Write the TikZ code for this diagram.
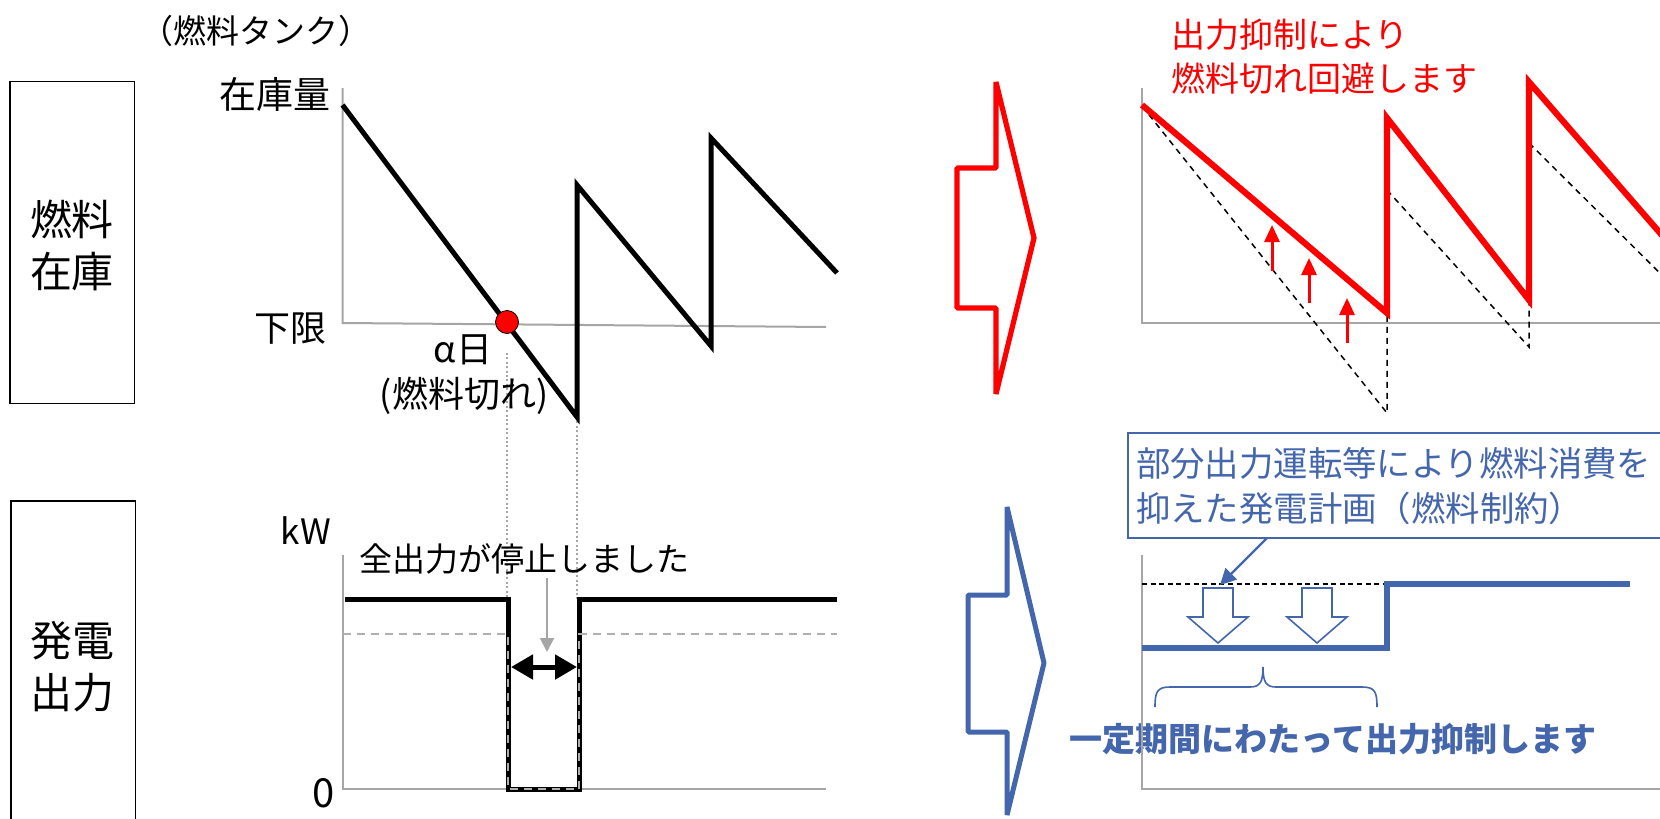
\documentclass[tikz,border=0pt]{standalone}
\usepackage{fontspec}
\setmainfont{Noto Sans CJK JP}
\usetikzlibrary{arrows.meta}
\definecolor{myblue}{RGB}{68,102,172}
\definecolor{axgray}{RGB}{166,166,166}
\definecolor{dgray}{RGB}{175,175,175}
\begin{document}
\begin{tikzpicture}[x=0.5pt,y=-0.5pt,
  every node/.style={inner sep=0pt, outer sep=0pt},
  ax/.style={draw=axgray, line width=1pt},
  blk/.style={draw=black, line width=2.5pt, line join=miter},
  thindash/.style={draw=black, line width=0.75pt, dash pattern=on 3pt off 2.5pt},
  dotv/.style={draw=axgray, line width=0.8pt, dash pattern=on 1pt off 1.2pt},
  sidebox/.style={draw=black, line width=0.8pt},
  fa/.style={font=\fontsize{21}{26}\selectfont},
  fb/.style={font=\fontsize{18.5}{22}\selectfont},
  fc/.style={font=\fontsize{18}{22}\selectfont},
  fd/.style={font=\fontsize{16.5}{20}\selectfont},
  fe/.style={font=\fontsize{17}{22}\selectfont},
  fg/.style={font=\fontsize{17.2}{22.5}\selectfont},
  blockarrow/.style={line width=2.6pt, line join=bevel, fill=white}
]
\clip (0,0) rectangle (1660,819);
\fill[white] (0,0) rectangle (1660,819);

% ---------------- left side boxes ----------------
\node[fd] (tank) at (256,31) {（燃料タンク）};
\node[sidebox, minimum width=62.3pt, minimum height=161pt] (box1) at (72.2,242.5) {};
\node[fa, align=center] (box1t) at (72,245) {燃料\\在庫};
\node[sidebox, anchor=north west, minimum width=62.3pt, minimum height=180pt] (box2) at (10.8,501) {};
\node[fa, align=center] (box2t) at (73,667) {発電\\出力};

% ---------------- top-left chart ----------------
\node[fb, anchor=east] (zaiko) at (330,94) {在庫量};
\node[fc, anchor=east] (kagen) at (326,329) {下限};
\coordinate (tlO) at (342.5,323);
\coordinate (tlY) at (342.5,88);
\coordinate (tlX) at (826,327);
\draw[ax] (tlY) -- (tlO) -- (tlX);
\draw[dotv] (507,353) -- (507,599);
\draw[dotv] (577,417) -- (577,599);
\draw[blk] (342.5,105) -- (577,417) -- (577,185) -- (711,346) -- (711,138) -- (837,273);
\node[circle, fill=red, draw=black, line width=0.4pt, minimum size=11.5pt] (dot) at (507,322) {};
\node[fc] (alpha) at (463,350) {α日};
\node[fc] (gire) at (464,396) {(燃料切れ)};

% ---------------- bottom-left chart ----------------
\node[font=\fontsize{17.5}{20}\selectfont] (kw) at (306,531) {kW};
\node[font=\fontsize{20}{24}\selectfont] (zero) at (324,793) {0};
\draw[ax] (342.5,555) -- (342.5,789) -- (826,789);
\draw[blk] (345,599) -- (508,599) -- (508,789) -- (579,789) -- (579,599) -- (837,599);
\draw[draw=dgray, line width=1.1pt, dash pattern=on 4pt off 3pt]
  (342.5,634) -- (508,634) -- (508,789) -- (579,789) -- (579,634) -- (837,634);
\node[fd] (stop) at (524,559) {全出力が停止しました};
\coordinate (gfrom) at (547,578);
\coordinate (gto) at (547,652);
\draw[axgray, line width=1pt, -{Triangle[length=7pt,width=7pt]}] (gfrom) -- (gto);
\coordinate (dl) at (511,667);
\coordinate (dr) at (577,667);
\draw[line width=2.5pt, {Triangle[length=11pt,width=12pt]}-{Triangle[length=11pt,width=12pt]}] (dl) -- (dr);

% ---------------- block arrows ----------------
\draw[red, blockarrow] (996,82) -- (1034,238) -- (996,394) -- (996,308) -- (957,308) -- (957,168) -- (996,168) -- cycle;
\draw[myblue, blockarrow, line width=2.5pt] (1007,507) -- (1044,663) -- (1007,815) -- (1007,732) -- (968,732) -- (968,595) -- (1007,595) -- cycle;

% ---------------- top-right chart ----------------
\node[fe, red, anchor=west, align=left] (redtxt) at (1171,57) {出力抑制により\\燃料切れ回避します};
\draw[ax] (1142,88) -- (1142,323) -- (1670,323);
\draw[thindash] (1142,106) -- (1387,413) -- (1387,313);
\draw[thindash] (1387,190) -- (1529,347) -- (1529,300);
\draw[thindash] (1529,143) -- (1700,313);
\draw[red, line width=3.1pt, line join=miter] (1142,105) -- (1387,313) -- (1387,118) -- (1529,300) -- (1529,82) -- (1700,279);
\foreach \xx/\ya/\yb in {1272/271/225, 1309/303/258, 1347/343/298}
  \draw[red, line width=1.5pt, -{Triangle[length=8.5pt,width=7.5pt]}] (\xx,\ya) -- (\xx,\yb);

% ---------------- bottom-right chart ----------------
\node[font=\fontsize{16.5}{20}\selectfont\bfseries, myblue] (bold) at (1333,739) {一定期間にわたって出力抑制します};
\draw[ax] (1142,555) -- (1142,789) -- (1670,789);
\draw[draw=black, line width=0.6pt, dash pattern=on 2.5pt off 1.8pt] (1142,584) -- (1390,584);
\draw[myblue, line width=3pt, line join=miter] (1142,648) -- (1387,648) -- (1387,584) -- (1630,584);
\foreach \cx in {1218,1317}
  \draw[myblue, line width=0.8pt, fill=white, line join=miter]
    (\cx-15,588) -- (\cx+15,588) -- (\cx+15,617) -- (\cx+30,617) -- (\cx,643) -- (\cx-30,617) -- (\cx-15,617) -- cycle;
\draw[myblue, line width=0.8pt]
  (1155,707) .. controls (1155,692) and (1157,687) .. (1170,687) -- (1250,687)
  .. controls (1260,687) and (1263,682) .. (1263,667)
  .. controls (1263,682) and (1266,687) .. (1276,687) -- (1362,687)
  .. controls (1375,687) and (1377,692) .. (1377,707);
\node[draw=myblue, line width=1pt, fill=white, anchor=north west, minimum width=268pt, minimum height=52.5pt] (callout) at (1128,433) {};
\node[fg, myblue, anchor=west, align=left] (calltxt) at (1136,486.5) {部分出力運転等により燃料消費を\\抑えた発電計画（燃料制約）};
\coordinate (cofrom) at (1267,538);
\coordinate (coto) at (1220,585);
\draw[myblue, line width=1.2pt, -{Triangle[length=8pt,width=8pt]}] (cofrom) -- (coto);
\end{tikzpicture}
\end{document}
